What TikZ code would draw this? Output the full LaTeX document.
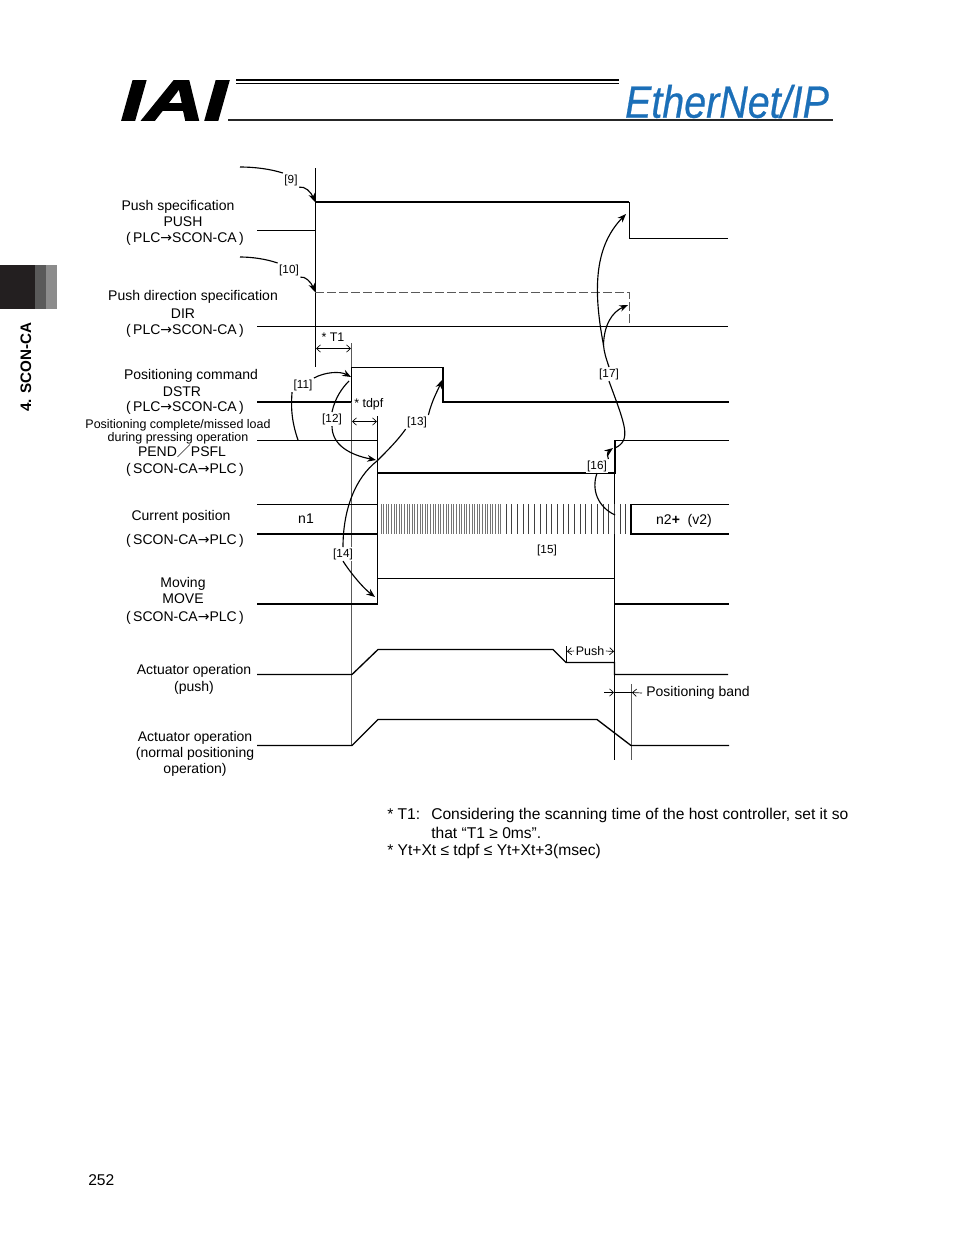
\documentclass[tikz,border=0pt]{standalone}
\usepackage{fontspec}
\setmainfont{Liberation Sans}
\newfontfamily\cjk{Noto Sans CJK JP}
\newfontfamily\arrowfont{DejaVu Sans}
\newfontfamily\logofont[BoldItalicFeatures={FakeBold=2.5}]{Liberation Sans}
\newfontfamily\etherfont[ItalicFeatures={FakeBold=0.6}]{Liberation Sans}
\usetikzlibrary{arrows.meta}
\definecolor{logoblue}{HTML}{1B6FB8}
\definecolor{tabdark}{HTML}{231F20}
\definecolor{tabmid}{HTML}{5A5A5A}
\definecolor{tablight}{HTML}{8C8C8C}
\tikzset{
  txt/.style={black, inner sep=0pt, yshift=-1.5pt, font=\fontsize{10.5}{12}\selectfont},
  smalltxt/.style={txt, font=\fontsize{9.35}{11}\selectfont},
  notetxt/.style={txt, right, font=\fontsize{11.7}{14}\selectfont},
  callno/.style={black, fill=white, inner sep=1pt, yshift=-0.8pt, font=\fontsize{8.8}{10}\selectfont},
  sig/.style={black, line width=0.75pt},
  sigthick/.style={black, line width=1.5pt},
  actuator/.style={black, line width=1pt},
  guide/.style={black!65, line width=0.6pt},
  callout/.style={black, line width=0.85pt, >={Stealth[length=6.5pt,width=5pt]}},
  dim/.style={black, line width=0.5pt, >={Straight Barb[length=3pt,width=5.5pt]}}
}
\newcommand{\plcscon}{(\,PLC{\arrowfont→}SCON-CA\,)}
\newcommand{\sconplc}{(\,SCON-CA{\arrowfont→}PLC\,)}
\begin{document}
\begin{tikzpicture}[x=0.75pt, y=-0.75pt]
\useasboundingbox (0,0) rectangle (954,1235);
% header
\node[black, inner sep=0pt, font=\fontsize{43}{43}\logofont\bfseries\itshape, xscale=1.45] (logo) at (174,100.5){IAI};
\node[logoblue, inner sep=0pt, font=\fontsize{34}{34}\etherfont\itshape, xscale=0.87] (ethernet) at (727,101.5){EtherNet/IP};
\draw[black, line width=1.1pt] (236,80) -- (619,80);
\draw[black, line width=0.6pt] (236,83.5) -- (619,83.5);
\draw[black!85, line width=1.5pt] (228,119.5) -- (833,119.5);
% side tab
\fill[tabdark] (0,265) rectangle (35,309);
\fill[tabmid] (35,265) rectangle (46,309);
\fill[tablight] (46,265) rectangle (57,309);
\node[black, rotate=90, inner sep=0pt, font=\fontsize{11.4}{13}\bfseries] (tab) at (26,367){4. SCON-CA};
% guides
\draw[guide] (351.5,343) -- (351.5,745);
\draw[guide] (631.5,684) -- (631.5,760);
\draw[sig] (315.5,168) -- (315.5,367);
\draw[sig] (377.5,416) -- (377.5,604);
\draw[sig] (614.5,473) -- (614.5,760);
% PUSH
\draw[sig] (257,230.5) -- (315,230.5);
\draw[sigthick] (315,202) -- (629,202);
\draw[sig] (629.5,202) -- (629.5,238.5) -- (728,238.5);
% DIR
\draw[sig] (257,326.5) -- (728,326.5);
\draw[black!65, dash pattern=on 7pt off 2pt, line width=0.7pt] (315,292.5) -- (629.5,292.5) -- (629.5,326);
% DSTR
\draw[sigthick] (257,402) -- (351,402);
\draw[sig] (351.5,402) -- (351.5,367.5) -- (443,367.5);
\draw[sigthick] (443,367) -- (443,402) -- (729,402);
% PEND
\draw[sig] (257,440.5) -- (377.5,440.5);
\draw[sigthick] (377,473) -- (615,473) -- (615,440);
\draw[sig] (615,440.5) -- (729,440.5);
% current position
\draw[sig] (257,504.5) -- (378,504.5);
\draw[sigthick] (257,534) -- (378,534);
\foreach \x in {381,383.6,...,502}
  \draw[black!55, line width=0.5pt] (\x,504) -- (\x,534);
\foreach \x in {506,511.7,...,627}
  \draw[black!75, line width=0.5pt] (\x,504) -- (\x,534);
\draw[sig] (729,504.5) -- (631,504.5);
\draw[sigthick] (631,504) -- (631,534) -- (729,534);
% MOVE
\draw[sigthick] (257,604) -- (378,604);
\draw[sig] (377.5,578.5) -- (614.5,578.5);
\draw[sigthick] (614,604) -- (729,604);
% actuator
\draw[actuator] (257,674.5) -- (352,674.5) -- (378,649.5) -- (553,649.5) -- (566,662.5) -- (614.5,662.5) -- (614.5,674.5) -- (728,674.5);
\draw[actuator] (257,745.5) -- (352,745.5) -- (378,719.5) -- (597,719.5) -- (631,745.5) -- (729,745.5);
% callout numbers
\node[callno] (no9) at (291,179){[9]};
\node[callno] (no10) at (289,269){[10]};
\node[callno] (no11) at (303,384){[11]};
\node[callno] (no12) at (332,418){[12]};
\node[callno] (no13) at (417,421){[13]};
\node[callno] (no14) at (343,553){[14]};
\node[callno] (no15) at (547,549){[15]};
\node[callno] (no16) at (597,465){[16]};
\node[callno] (no17) at (609,373){[17]};
\coordinate (fork) at (603.5,345);
% callouts
\draw[callout] (240,167) .. controls (255,167) and (270,169) .. (no9.north west);
\draw[callout, ->] (no9.south east) .. controls (305,186) and (311,192) .. (315,202);
\draw[callout] (240,257) .. controls (252,257) and (266,259) .. (no10.north west);
\draw[callout, ->] (no10.south east) .. controls (305,276) and (311,282) .. (315,292);
\draw[callout] (298,440) .. controls (291,420) and (291,405) .. (no11.south west);
\draw[callout, ->] (no11.north east) .. controls (325,372) and (340,371) .. (351,377);
\draw[callout] (349,381) .. controls (342,388) and (335,398) .. (no12.north);
\draw[callout, ->] (no12.south) .. controls (332,445) and (350,455) .. (376,460);
\draw[callout] (377,461) .. controls (388,450) and (398,440) .. (no13.south west);
\draw[callout, ->] (no13.north east) .. controls (432,400) and (438,390) .. (442,380);
\draw[callout] (377,461) .. controls (355,478) and (343,510) .. (no14.north);
\draw[callout, ->] (no14.south) .. controls (350,572) and (362,587) .. (375,597);
\draw[callout] (615,515) .. controls (598,507) and (591,490) .. (no16.south);
\draw[callout, ->] (no16.north east) .. controls (606,453) and (609,451) .. (613,448);
\draw[callout] (615,448) .. controls (632,440) and (625,425) .. (no17.south);
\draw[callout] (no17.north) .. controls (606,358) and (604,352) .. (fork);
\draw[callout, ->] (fork) .. controls (592,285) and (596,245) .. (626,214);
\draw[callout, ->] (fork) .. controls (604,325) and (612,312) .. (628,305);
% dimensions
\node[smalltxt] (tone) at (333,335){* T1};
\draw[dim, <->] (316,348.5) -- (351,348.5);
\node[smalltxt, right] (tdpf) at (354,402.5){* tdpf};
\draw[dim, <->] (352,421.5) -- (377,421.5);
\node[smalltxt, fill=white, inner xsep=1pt] (pushtime) at (590,649){Push};
\draw[dim] (566.5,646) -- (566.5,662);
\draw[dim, ->] (pushtime.west) -- (567,651.5);
\draw[dim, ->] (pushtime.east) -- (614,651.5);
\draw[dim, ->] (604,692.5) -- (614,692.5);
\draw[dim] (614,692.5) -- (632,692.5);
\node[txt, right] (band) at (646,691){Positioning band};
\draw[dim, ->] ([xshift=-3pt]band.west) -- (632,692.5);
% values
\node[txt] (none) at (306,517){n1};
\node[txt] (ntwo) at (684,519){n2{\bfseries +}\ \ (v2)};
% signal names
\node[txt] (pushname) at (178,205){Push specification};
\node[txt] (pushsig) at (183,220){PUSH};
\node[txt] (pushdir) at (185,237){\plcscon};
\node[txt] (dirname) at (193,295){Push direction specification};
\node[txt] (dirsig) at (183,312){DIR};
\node[txt] (dirdir) at (185,329){\plcscon};
\node[txt] (dstrname) at (191,374){Positioning command};
\node[txt] (dstrsig) at (182,390){DSTR};
\node[txt] (dstrdir) at (185,406){\plcscon};
\node[smalltxt] (pendname) at (178,423){Positioning complete/missed load};
\node[smalltxt] (pendtwo) at (178,436){during pressing operation};
\node[txt] (pendsig) at (182,449){PEND{\cjk ／}PSFL};
\node[txt] (penddir) at (185,468){\sconplc};
\node[txt] (curname) at (181,515){Current position};
\node[txt] (curdir) at (185,539){\sconplc};
\node[txt] (movename) at (183,582){Moving};
\node[txt] (movesig) at (183,597){MOVE};
\node[txt] (movedir) at (185,616){\sconplc};
\node[txt] (actname) at (194,669){Actuator operation};
\node[txt] (acttwo) at (194,686){(push)};
\node[txt] (normname) at (195,736){Actuator operation};
\node[txt] (normtwo) at (195,752){(normal positioning};
\node[txt] (normthree) at (195,768){operation)};
% notes
\node[notetxt] (noteone) at (387,812){* T1:};
\node[notetxt] (noteonea) at (431,813){Considering the scanning time of the host controller, set it so};
\node[notetxt] (noteoneb) at (431,831){that “T1 ≥ 0ms”.};
\node[notetxt] (notetwo) at (387,849){* Yt+Xt ≤ tdpf ≤ Yt+Xt+3(msec)};
\node[notetxt] (page) at (88,1178){252};
\end{tikzpicture}
\end{document}
